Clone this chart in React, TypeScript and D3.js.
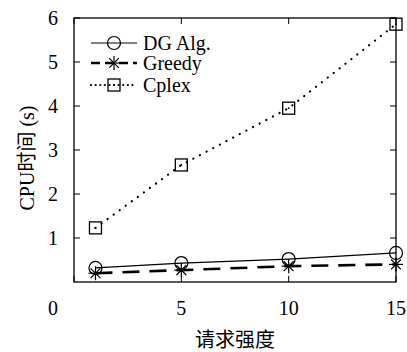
import * as d3 from "d3";

const xValues = [1, 5, 10, 15];
const dgAlg = [0.32, 0.43, 0.52, 0.66];
const greedy = [0.2, 0.27, 0.36, 0.4];
const cplex = [1.23, 2.66, 3.95, 5.86];
const yTicks = [1, 2, 3, 4, 5, 6];
const xTicks = [0, 5, 10, 15];

const W = 407;
const H = 352;
const margin = { left: 74, right: 11, top: 18, bottom: 70 };
const FONT = "'Liberation Serif', 'Noto Sans CJK SC', serif";

export default function App() {
  const x = d3.scaleLinear().domain([0, 15]).range([margin.left, W - margin.right]);
  const y = d3.scaleLinear().domain([0, 6]).range([H - margin.bottom, margin.top]);
  const line = d3
    .line<number>()
    .x((_, i) => x(xValues[i]))
    .y((d) => y(d));

  const x0 = x(0), x1 = x(15), y0 = y(0), y1 = y(6);
  const tick = 6;

  const circle = (cx: number, cy: number, k: string) => (
    <circle key={k} cx={cx} cy={cy} r={6.5} fill="none" stroke="#000" strokeWidth={1.2} />
  );
  const star = (cx: number, cy: number, k: string) => {
    const r = 7;
    return (
      <g key={k} stroke="#000" strokeWidth={1.2}>
        <line x1={cx - r} y1={cy} x2={cx + r} y2={cy} />
        <line x1={cx} y1={cy - r} x2={cx} y2={cy + r} />
        <line x1={cx - r * 0.7} y1={cy - r * 0.7} x2={cx + r * 0.7} y2={cy + r * 0.7} />
        <line x1={cx - r * 0.7} y1={cy + r * 0.7} x2={cx + r * 0.7} y2={cy - r * 0.7} />
      </g>
    );
  };
  const square = (cx: number, cy: number, k: string) => (
    <g key={k}>
      <rect x={cx - 6} y={cy - 6} width={12} height={12} fill="none" stroke="#000" strokeWidth={1.3} />
      <circle cx={cx} cy={cy} r={0.9} fill="#000" />
    </g>
  );

  const series = [
    { name: "DG Alg.", data: dgAlg, dash: undefined as string | undefined, width: 1.2, cap: "butt", marker: circle },
    { name: "Greedy", data: greedy, dash: "17,10", width: 2.6, cap: "butt", marker: star },
    { name: "Cplex", data: cplex, dash: "0.1,7.4", width: 2.2, cap: "round", marker: square },
  ];

  const legendY = [43, 63, 85];

  return (
    <svg width={W} height={H} style={{ position: "absolute", left: 0, top: 0 }} fontFamily={FONT}>
      <rect width={W} height={H} fill="#fff" />
      {series.map((s) => (
        <g key={s.name}>
          <path
            d={line(s.data) ?? ""}
            fill="none"
            stroke="#000"
            strokeWidth={s.width}
            strokeDasharray={s.dash}
            strokeLinecap={s.cap as "butt" | "round"}
          />
          {s.data.map((v, i) => s.marker(x(xValues[i]), y(v), `${s.name}-${i}`))}
        </g>
      ))}
      <rect x={x0} y={y1} width={x1 - x0} height={y0 - y1} fill="none" stroke="#000" strokeWidth={1.3} />
      {yTicks.map((t) => (
        <g key={`y${t}`}>
          <line x1={x0} x2={x0 + tick} y1={y(t)} y2={y(t)} stroke="#000" strokeWidth={1} />
          <line x1={x1} x2={x1 - tick} y1={y(t)} y2={y(t)} stroke="#000" strokeWidth={1} />
          <text x={x0 - 21} y={y(t)} fontSize={20} textAnchor="middle" dominantBaseline="central">
            {t}
          </text>
        </g>
      ))}
      {xTicks.map((t) => (
        <g key={`x${t}`}>
          <line x1={x(t)} x2={x(t)} y1={y0} y2={y0 - tick} stroke="#000" strokeWidth={1} />
          <line x1={x(t)} x2={x(t)} y1={y1} y2={y1 + tick} stroke="#000" strokeWidth={1} />
          <text
            x={t === 0 ? x(t) - 21 : x(t)}
            y={y0 + 26}
            fontSize={20}
            textAnchor="middle"
            dominantBaseline="central"
          >
            {t}
          </text>
        </g>
      ))}
      {series.map((s, i) => (
        <g key={`leg${s.name}`}>
          <line
            x1={91}
            x2={137}
            y1={legendY[i]}
            y2={legendY[i]}
            stroke="#000"
            strokeWidth={s.width}
            strokeDasharray={i === 1 ? "9,5" : i === 2 ? "0.1,4.5" : undefined}
            strokeLinecap={s.cap as "butt" | "round"}
          />
          {s.marker(114, legendY[i], `lm${i}`)}
          <text x={143} y={legendY[i]} fontSize={20} dominantBaseline="central">
            {s.name}
          </text>
        </g>
      ))}
      <text
        transform={`translate(27,158) rotate(-90)`}
        fontSize={20}
        textAnchor="middle"
        dominantBaseline="central"
      >
        CPU时间 (s)
      </text>
      <text x={(x0 + x1) / 2} y={340} fontSize={20} textAnchor="middle" dominantBaseline="central">
        请求强度
      </text>
    </svg>
  );
}
